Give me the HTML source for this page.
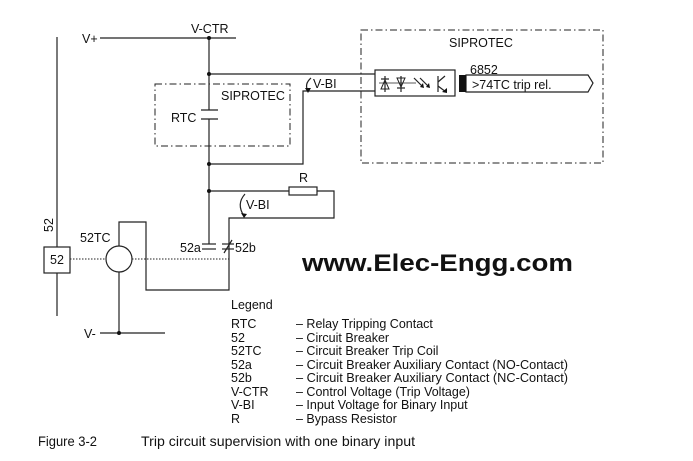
<!DOCTYPE html>
<html><head><meta charset="utf-8"><style>
html,body{margin:0;padding:0;background:#fff;}
svg{display:block;}
text{font-family:"Liberation Sans",Arial,sans-serif;fill:#111;}
</style></head><body>
<svg width="693" height="461" viewBox="0 0 693 461" xmlns="http://www.w3.org/2000/svg">
<g stroke="#222" stroke-width="1.2" fill="none">
<line x1="100" y1="38" x2="236" y2="38"/>
<line x1="209" y1="38" x2="209" y2="110"/>
<line x1="209" y1="119" x2="209" y2="244"/>
<line x1="201" y1="110" x2="218" y2="110"/>
<line x1="201" y1="119" x2="218" y2="119"/>
<line x1="57" y1="37" x2="57" y2="247"/>
<rect x="44" y="247" width="26" height="26"/>
<line x1="57" y1="273" x2="57" y2="316"/>
<polyline points="209,74 375,74"/>
<polyline points="209,164 303,164 303,91 375,91"/>
<line x1="209" y1="191" x2="289" y2="191"/>
<rect x="289" y="187" width="28" height="8"/>
<polyline points="317,191 334,191 334,218 229,218 229,290 146,290 146,222 119,222 119,246"/>
<circle cx="119" cy="259" r="13"/>
<line x1="119" y1="272" x2="119" y2="333"/>
<line x1="100" y1="333" x2="165" y2="333"/>
<line x1="202" y1="244" x2="216" y2="244"/>
<line x1="202" y1="249" x2="216" y2="249"/>
<line x1="222" y1="244" x2="234" y2="244"/>
<line x1="222" y1="249" x2="234" y2="249"/>
<line x1="224" y1="253" x2="232" y2="240"/>
<line x1="70" y1="259" x2="106" y2="259" stroke-dasharray="1.5,1.5" stroke-width="1"/>
<line x1="132" y1="259" x2="229" y2="259" stroke-dasharray="1.5,1.5" stroke-width="1"/>
<rect x="155" y="84" width="135" height="62" stroke-dasharray="7,3,1.5,3" stroke-width="1"/>
<rect x="361" y="30" width="242" height="133" stroke-dasharray="7,3,1.5,3" stroke-width="1"/>
<rect x="375" y="70" width="80" height="26"/>
<polygon points="466,75 588,75 593,83 588,92 466,92"/>
<path d="M311,78 Q304,84 308,91"/>
<path d="M245,194 Q236,204 244,216"/>
<line x1="379" y1="83" x2="416" y2="83" stroke-width="0.8"/>
<polygon points="381,89 389,89 385,80" stroke-width="1"/>
<line x1="381" y1="79" x2="389" y2="79"/>
<line x1="385" y1="76" x2="385" y2="92"/>
<polygon points="397,78 405,78 401,87" stroke-width="1"/>
<line x1="397" y1="88" x2="405" y2="88"/>
<line x1="401" y1="76" x2="401" y2="92"/>
<line x1="414" y1="78" x2="422" y2="86"/>
<line x1="420" y1="78" x2="428" y2="86"/>
<line x1="438" y1="76" x2="438" y2="92"/>
<line x1="438" y1="82" x2="445" y2="76"/>
<line x1="438" y1="86" x2="446" y2="92"/>
</g>
<g fill="#111">
<circle cx="209" cy="38" r="2"/>
<circle cx="209" cy="74" r="2"/>
<circle cx="209" cy="164" r="2"/>
<circle cx="209" cy="191" r="2"/>
<circle cx="119" cy="333" r="2"/>
<rect x="459" y="75" width="7" height="17"/>
<polygon points="305,88 311,88 308,93"/>
<polygon points="241,213 247,214 244,218"/>
<polygon points="420,87 423,83 424,88"/>
<polygon points="426,87 429,83 430,88"/>
<polygon points="442,92 447,88 447,93"/>
</g>
<g font-size="12.5">
<text x="82" y="43">V+</text>
<text x="191" y="33">V-CTR</text>
<text x="221" y="100">SIPROTEC</text>
<text x="171" y="122">RTC</text>
<text x="313" y="88">V-BI</text>
<text x="449" y="47">SIPROTEC</text>
<text x="470" y="74">6852</text>
<text x="472" y="89">&gt;74TC trip rel.</text>
<text x="299" y="182">R</text>
<text x="246" y="209">V-BI</text>
<text x="80" y="242">52TC</text>
<text x="180" y="252">52a</text>
<text x="235" y="252">52b</text>
<text x="50" y="264">52</text>
<text transform="translate(53,232) rotate(-90)">52</text>
<text x="84" y="338">V-</text>
<text x="231" y="309">Legend</text>
<text x="231" y="328">RTC</text><text x="296" y="328">– Relay Tripping Contact</text>
<text x="231" y="342">52</text><text x="296" y="342">– Circuit Breaker</text>
<text x="231" y="355">52TC</text><text x="296" y="355">– Circuit Breaker Trip Coil</text>
<text x="231" y="369">52a</text><text x="296" y="369" textLength="272" lengthAdjust="spacingAndGlyphs">– Circuit Breaker Auxiliary Contact (NO-Contact)</text>
<text x="231" y="382">52b</text><text x="296" y="382" textLength="272" lengthAdjust="spacingAndGlyphs">– Circuit Breaker Auxiliary Contact (NC-Contact)</text>
<text x="231" y="396">V-CTR</text><text x="296" y="396">– Control Voltage (Trip Voltage)</text>
<text x="231" y="409">V-BI</text><text x="296" y="409">– Input Voltage for Binary Input</text>
<text x="231" y="423">R</text><text x="296" y="423">– Bypass Resistor</text>
</g>
<text x="38" y="446" font-size="14" textLength="59" lengthAdjust="spacingAndGlyphs">Figure 3-2</text>
<text x="141" y="446" font-size="14" textLength="274" lengthAdjust="spacingAndGlyphs">Trip circuit supervision with one binary input</text>
<text x="302" y="271" font-size="24" font-weight="bold" textLength="271" lengthAdjust="spacingAndGlyphs">www.Elec-Engg.com</text>
</svg>
</body></html>
